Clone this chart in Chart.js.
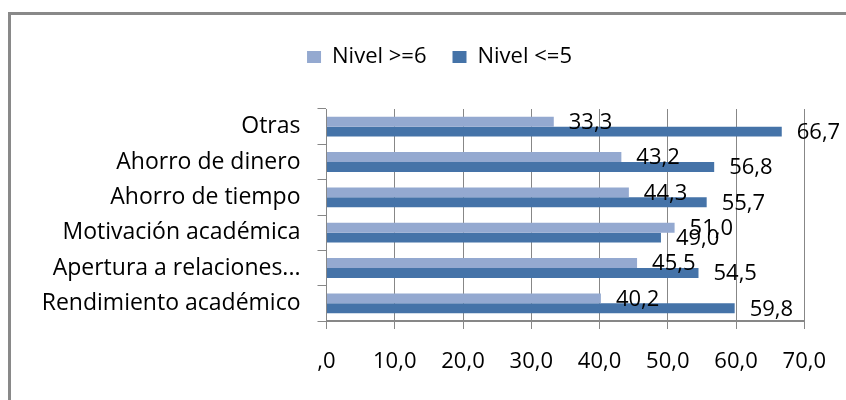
<!DOCTYPE html>
<html>
<head>
<meta charset="utf-8">
<script src="https://cdn.jsdelivr.net/npm/chart.js@4"></script>
<style>
  html, body { margin: 0; padding: 0; background: #fff; }
  #wrap { position: relative; width: 846px; height: 400px; overflow: hidden; }
  #frame { position: absolute; left: 8px; top: 12px; width: 900px; height: 500px;
           border-left: 3px solid #898989; border-top: 3px solid #898989; }
  canvas { position: absolute; left: 0; top: 0; }
</style>
</head>
<body>
<div id="wrap">
  <div id="frame"></div>
  <canvas id="c" width="846" height="400"></canvas>
</div>
<script>
const categories = ['Otras', 'Ahorro de dinero', 'Ahorro de tiempo', 'Motivación académica', 'Apertura a relaciones...', 'Rendimiento académico'];
const seriesNames = ['Nivel >=6', 'Nivel <=5'];
const nivelAlto = [33.3, 43.2, 44.3, 51.0, 45.5, 40.2];
const nivelBajo = [66.7, 56.8, 55.7, 49.0, 54.5, 59.8];
const xTickLabels = [',0', '10,0', '20,0', '30,0', '40,0', '50,0', '60,0', '70,0'];

const FONT = "'Open Sans', 'DejaVu Sans', sans-serif";
const GRID = '#878787';

const valueLabels = {
  id: 'valueLabels',
  afterDatasetsDraw(chart) {
    const ctx = chart.ctx;
    ctx.save();
    ctx.font = '22px ' + FONT;
    ctx.fillStyle = '#000';
    ctx.textAlign = 'left';
    ctx.textBaseline = 'middle';
    chart.data.datasets.forEach((ds, i) => {
      const meta = chart.getDatasetMeta(i);
      meta.data.forEach((el, j) => {
        const txt = ds.data[j].toFixed(1).replace('.', ',');
        ctx.fillText(txt, el.x + 15, el.y + 1);
      });
    });
    ctx.restore();
  }
};

new Chart(document.getElementById('c'), {
  type: 'bar',
  data: {
    labels: categories,
    datasets: [
      { label: seriesNames[0], data: nivelAlto, backgroundColor: '#94A9D0', borderWidth: 0, xAxisID: 'x', yAxisID: 'y' },
      { label: seriesNames[1], data: nivelBajo, backgroundColor: '#4573A8', borderWidth: 0, xAxisID: 'x', yAxisID: 'y' }
    ]
  },
  options: {
    indexAxis: 'y',
    responsive: false,
    animation: false,
    devicePixelRatio: 1,
    layout: { padding: { left: 33, right: 0, top: 20, bottom: 0 } },
    datasets: { bar: { categoryPercentage: 0.56, barPercentage: 1 } },
    plugins: {
      legend: {
        position: 'top',
        align: 'center',
        labels: {
          font: { family: FONT, size: 22 },
          color: '#000',
          boxWidth: 14,
          boxHeight: 12,
          padding: 26
        }
      },
      tooltip: { enabled: false }
    },
    scales: {
      y: {
        type: 'category',
        position: 'left',
        afterFit(s) { s.width = 293.5; },
        grid: { color: GRID, lineWidth: 1, tickLength: 9, drawOnChartArea: false, drawTicks: true, offset: true },
        border: { display: true, color: GRID, width: 1 },
        ticks: {
          padding: 17,
          color: '#000',
          font: { family: FONT, size: 23 }
        }
      },
      x: {
        type: 'linear',
        position: 'bottom',
        min: 0,
        max: 70,
        afterFit(s) { s.height = 79; },
        grid: { color: GRID, lineWidth: 1, tickLength: 8, drawTicks: true },
        border: { display: true, color: GRID, width: 2 },
        ticks: {
          stepSize: 10,
          padding: 20,
          color: '#000',
          font: { family: FONT, size: 22 },
          callback: (v) => xTickLabels[Math.round(v / 10)]
        }
      },
      xTop: {
        type: 'linear',
        axis: 'x',
        position: 'top',
        display: true,
        afterFit(s) { s.height = 31; },
        grid: { display: false, drawTicks: false },
        border: { display: false },
        ticks: { display: false }
      },
      yRight: {
        type: 'linear',
        axis: 'y',
        position: 'right',
        display: true,
        afterFit(s) { s.width = 39; },
        grid: { display: false, drawTicks: false },
        border: { display: false },
        ticks: { display: false }
      }
    }
  },
  plugins: [valueLabels]
});
</script>
</body>
</html>
